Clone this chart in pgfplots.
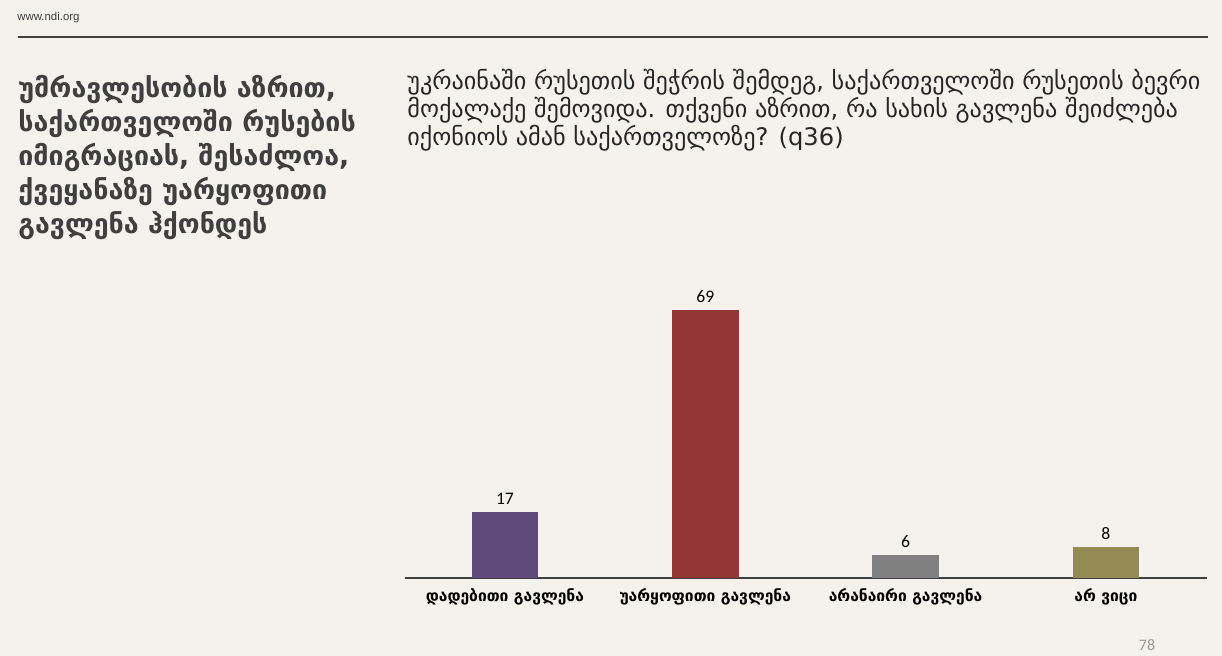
\documentclass[border=0pt]{standalone}
\usepackage{fontspec}
\setmainfont{DejaVu Sans}
\newfontfamily\carl{Carlito}
\newfontfamily\arialf{Liberation Sans}
\usepackage{pgfplots}
\pgfplotsset{compat=1.18}
\definecolor{bg}{HTML}{F5F2ED}
\definecolor{ttl}{HTML}{3F3F3F}
\definecolor{qtxt}{HTML}{262626}
\definecolor{cpos}{HTML}{604A7B}
\definecolor{cneg}{HTML}{943634}
\definecolor{cnone}{HTML}{808080}
\definecolor{cdk}{HTML}{948A54}
\begin{document}
\begin{tikzpicture}[x=0.5pt,y=0.5pt]
\fill[bg] (0,0) rectangle (1222,656);
\useasboundingbox (0,0) rectangle (1222,656);
% header
\node[anchor=west,inner sep=0pt,text=ttl,font=\arialf\fontsize{5.7}{6}\selectfont] at (17,638) {www.ndi.org};
\draw[ttl,line width=0.65pt] (18,619) -- (1208,619);
% title
\node[anchor=north west,inner sep=0pt,align=left,text=ttl,font=\bfseries\fontsize{13.4}{17}\selectfont] at (18,581)
{უმრავლესობის აზრით,\\საქართველოში რუსების\\იმიგრაციას, შესაძლოა,\\ქვეყანაზე უარყოფითი\\გავლენა ჰქონდეს};
% question
\node[anchor=north west,inner sep=0pt,align=left,text=qtxt,font=\fontsize{12.1}{14}\selectfont] at (407,587)
{უკრაინაში რუსეთის შეჭრის შემდეგ, საქართველოში რუსეთის ბევრი\\მოქალაქე შემოვიდა. თქვენი აზრით, რა სახის გავლენა შეიძლება\\იქონიოს ამან საქართველოზე? (q36)};
% page number
\node[text=black!40,font=\carl\fontsize{8}{9}\selectfont] at (1147,11) {78};
\begin{axis}[
  at={(202.5pt,39pt)}, anchor=south west,
  scale only axis, width=401pt, height=155.6pt,
  xmin=-0.499, xmax=3.505, ymin=0, ymax=80,
  hide y axis,
  axis x line*=bottom,
  x axis line style={draw=ttl,line width=0.65pt},
  xtick={0,1,2,3},
  xticklabels={დადებითი გავლენა,უარყოფითი გავლენა,არანაირი გავლენა,არ ვიცი},
  xticklabel style={font=\bfseries\fontsize{7.8}{9}\selectfont,text=black,yshift=-2pt},
  major tick length=0pt,
  ybar, bar width=33.3pt, bar shift=0pt,
  /pgf/number format/assume math mode=true,
  nodes near coords,
  nodes near coords style={font=\carl\fontsize{8.8}{10}\selectfont,text=black},
  clip=false,
]
\addplot[fill=cpos,draw=none] coordinates {(0,17)};
\addplot[fill=cneg,draw=none] coordinates {(1,69)};
\addplot[fill=cnone,draw=none] coordinates {(2,6)};
\addplot[fill=cdk,draw=none] coordinates {(3,8)};
\end{axis}
\end{tikzpicture}
\end{document}
